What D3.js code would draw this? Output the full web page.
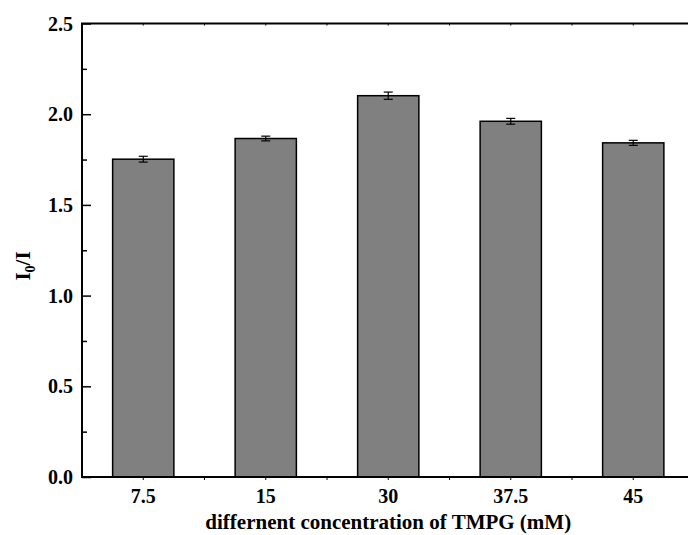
<!DOCTYPE html>
<html>
<head>
<meta charset="utf-8">
<script src="https://cdn.jsdelivr.net/npm/d3@7"></script>
<style>
  body { margin: 0; background: #fff; }
  svg text { font-family: "Liberation Serif", "Times New Roman", Times, "DejaVu Serif", serif; font-weight: bold; }
</style>
</head>
<body>
<svg id="chart"></svg>
<script>
let width = 688, height = 535;

// data
var categories = ["7.5", "15", "30", "37.5", "45"];
var values = [1.752, 1.866, 2.102, 1.961, 1.842];
var errors = [0.016, 0.013, 0.020, 0.016, 0.014];
var yTicks = [0, 0.5, 1.0, 1.5, 2.0, 2.5];
var yMinor = [0.25, 0.75, 1.25, 1.75, 2.25];

var margin = {left: 82, top: 23.5, right: 694.5, bottom: 477};
var serif = "'Liberation Serif', 'Times New Roman', serif";

let svg = d3.select("#chart")
  .attr("width", width)
  .attr("height", height);

var x = d3.scaleBand()
  .domain(categories)
  .range([margin.left, margin.right]);

var y = d3.scaleLinear()
  .domain([0, 2.5])
  .range([margin.bottom, margin.top]);

var barW = x.bandwidth() * 0.5;

// bars
svg.append("g")
  .selectAll("rect")
  .data(values)
  .join("rect")
  .attr("x", (d, i) => x(categories[i]) + (x.bandwidth() - barW) / 2)
  .attr("y", d => y(d))
  .attr("width", barW)
  .attr("height", d => y(0) - y(d))
  .attr("fill", "#808080")
  .attr("stroke", "#000")
  .attr("stroke-width", 1.5);

// error bars
var eb = svg.append("g").attr("stroke", "#000").attr("stroke-width", 1.2);
values.forEach((v, i) => {
  var cx = x(categories[i]) + x.bandwidth() / 2;
  var e = errors[i];
  eb.append("line").attr("x1", cx).attr("x2", cx).attr("y1", y(v + e)).attr("y2", y(v - e));
  eb.append("line").attr("x1", cx - 4.5).attr("x2", cx + 4.5).attr("y1", y(v + e)).attr("y2", y(v + e));
  eb.append("line").attr("x1", cx - 4.5).attr("x2", cx + 4.5).attr("y1", y(v - e)).attr("y2", y(v - e));
});

// x tick positions (major at centers, minor at band edges)
var xMajor = categories.map(c => x(c) + x.bandwidth() / 2);
var xMinor = categories.slice(1).map(c => x(c));

// left axis, ticks inward
var left = svg.append("g").attr("transform", `translate(${margin.left},0)`);
left.call(d3.axisRight(y).tickValues(yTicks).tickSize(9).tickFormat(""))
  .call(g => g.select(".domain").remove())
  .call(g => g.selectAll("line").attr("stroke-width", 1.5));
left.append("g").call(d3.axisRight(y).tickValues(yMinor).tickSize(5).tickFormat(""))
  .call(g => g.select(".domain").remove())
  .call(g => g.selectAll("line").attr("stroke-width", 1.5));

svg.append("g")
  .selectAll("text")
  .data(yTicks)
  .join("text")
  .attr("x", 73)
  .attr("y", d => y(d))
  .attr("dy", "0.35em")
  .attr("text-anchor", "end")
  .attr("font-family", serif)
  .attr("font-weight", "bold")
  .attr("font-size", 20)
  .attr("fill", "#000")
  .text(d => d.toFixed(1));

// small ticks on bottom and top
var tick = svg.append("g").attr("stroke", "#000").attr("stroke-width", 1);
xMajor.concat(xMinor).forEach(px => {
  tick.append("line").attr("x1", px).attr("x2", px).attr("y1", margin.bottom).attr("y2", margin.bottom + 3);
  tick.append("line").attr("x1", px).attr("x2", px).attr("y1", margin.top).attr("y2", margin.top + 2);
});

svg.append("g")
  .selectAll("text")
  .data(categories)
  .join("text")
  .attr("x", d => x(d) + x.bandwidth() / 2)
  .attr("y", 503)
  .attr("text-anchor", "middle")
  .attr("font-family", serif)
  .attr("font-weight", "bold")
  .attr("font-size", 20)
  .attr("fill", "#000")
  .text(d => d);

// frame
svg.append("rect")
  .attr("x", margin.left)
  .attr("y", margin.top)
  .attr("width", margin.right - margin.left)
  .attr("height", margin.bottom - margin.top)
  .attr("fill", "none")
  .attr("stroke", "#000")
  .attr("stroke-width", 2);

// axis titles
svg.append("text")
  .attr("x", (margin.left + margin.right) / 2)
  .attr("y", 529)
  .attr("text-anchor", "middle")
  .attr("font-family", serif)
  .attr("font-weight", "bold")
  .attr("font-size", 21)
  .attr("fill", "#000")
  .text("differnent concentration of TMPG (mM)");

var yt = svg.append("text")
  .attr("transform", "translate(30,266) rotate(-90)")
  .attr("text-anchor", "middle")
  .attr("font-family", serif)
  .attr("font-weight", "bold")
  .attr("font-size", 21)
  .attr("fill", "#000");
yt.append("tspan").text("I");
yt.append("tspan").attr("font-size", 14).attr("dy", 5).text("0");
yt.append("tspan").attr("dy", -5).text("/I");
</script>
</body>
</html>
